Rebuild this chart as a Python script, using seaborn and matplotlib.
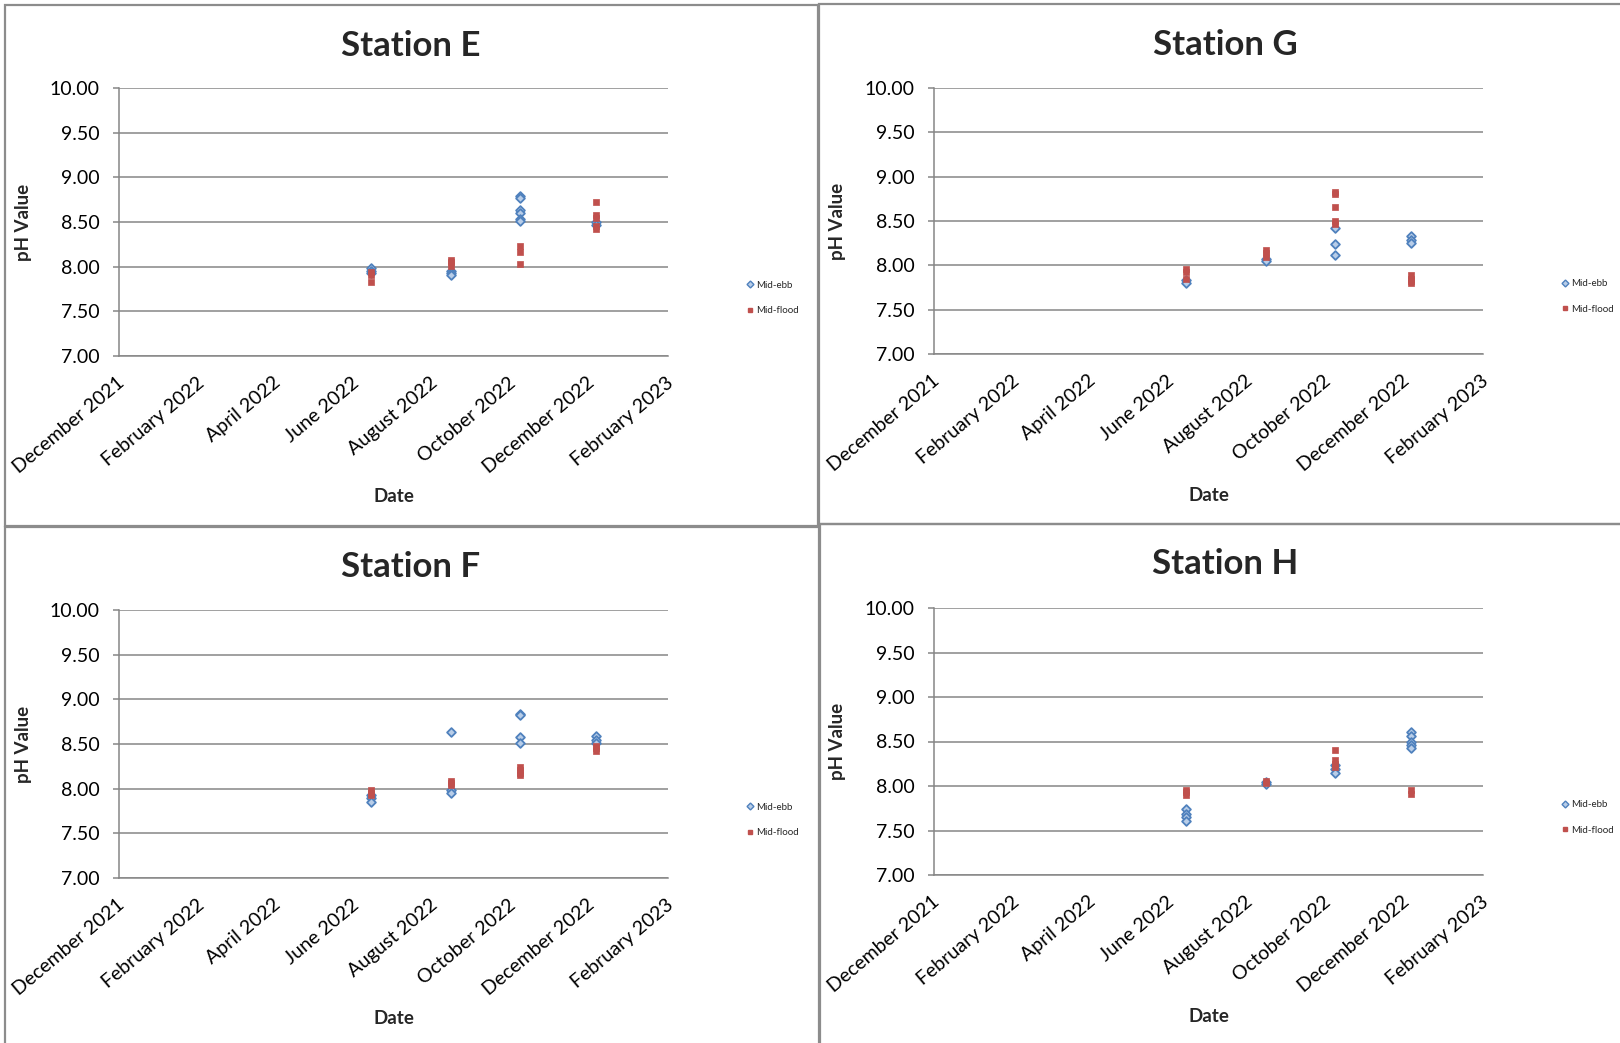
import matplotlib.pyplot as plt
import matplotlib.transforms as mtransforms
import pandas as pd
import seaborn as sns
from matplotlib.lines import Line2D
from matplotlib.patches import Rectangle
from matplotlib.ticker import FormatStrFormatter

# sampling dates (same for every station)
sample_dates = ['2022-06-15', '2022-08-16', '2022-10-09', '2022-12-07']

# pH readings, one list per sampling date
e_ebb = [[7.99, 7.95, 7.93], [7.95, 7.93, 7.91], [8.79, 8.77, 8.63, 8.60, 8.53, 8.51], [8.50, 8.47]]
e_flood = [[7.94, 7.91, 7.83], [8.08, 8.05, 8.01], [8.23, 8.16, 8.03], [8.72, 8.58, 8.54, 8.45, 8.42]]

g_ebb = [[7.83, 7.80], [8.07, 8.05], [8.42, 8.24, 8.12], [8.33, 8.29, 8.25]]
g_flood = [[7.96, 7.92, 7.85], [8.17, 8.14, 8.09], [8.83, 8.80, 8.66, 8.50, 8.47], [7.89, 7.85, 7.82, 7.80]]

f_ebb = [[7.93, 7.89, 7.85], [8.63, 7.99, 7.95], [8.84, 8.82, 8.58, 8.51], [8.59, 8.55, 8.51]]
f_flood = [[7.98, 7.95, 7.93], [8.09, 8.06, 8.04], [8.24, 8.21, 8.18, 8.15], [8.48, 8.45, 8.42]]

h_ebb = [[7.74, 7.69, 7.65, 7.61], [8.04, 8.02], [8.24, 8.19, 8.15], [8.61, 8.56, 8.50, 8.46, 8.43]]
h_flood = [[7.96, 7.93, 7.90], [8.06, 8.03], [8.41, 8.29, 8.25, 8.21], [7.95, 7.91]]

station_names = ['Station E', 'Station G', 'Station F', 'Station H']
station_data = [(e_ebb, e_flood), (g_ebb, g_flood), (f_ebb, f_flood), (h_ebb, h_flood)]
tide_labels = ['Mid-ebb', 'Mid-flood']

y_ticks = [7.0, 7.5, 8.0, 8.5, 9.0, 9.5, 10.0]
x_ticks = pd.date_range('2021-12-01', '2023-02-01', freq='2MS')

rows = []
for name, series in zip(station_names, station_data):
    for tide, per_date in zip(tide_labels, series):
        for d, vals in zip(sample_dates, per_date):
            for v in vals:
                rows.append({'station': name, 'tide': tide, 'date': pd.Timestamp(d), 'pH': v})
df = pd.DataFrame(rows)

sns.set_theme(style='white')
plt.rcParams['font.family'] = ['Lato', 'DejaVu Sans']

W, H = 1620, 1043
fig = plt.figure(figsize=(W / 100, H / 100), dpi=100)

# panel frames, axes boxes, title / label spots in pixels (left, top)
frames = [(5, 5, 818, 526), (819, 4, 1630, 524), (5, 527, 819, 1050), (820, 524, 1630, 1050)]
boxes = [(119, 88, 668, 356), (934, 88, 1483, 354), (119, 610, 668, 878), (934, 608, 1483, 875)]
titles = [(411, 46), (1225, 45), (411, 567), (1225, 564)]
ylab_x = [23, 837, 23, 837]
xlab_y = [497, 495, 1019, 1017]

blue_face, blue_edge = '#b8cde8', '#4f81bd'
red = '#c0504d'
grid_c = '#868686'

for i, name in enumerate(station_names):
    fx0, fy0, fx1, fy1 = frames[i]
    fig.patches.append(Rectangle((fx0 / W, 1 - fy1 / H), (fx1 - fx0) / W, (fy1 - fy0) / H,
                                 transform=fig.transFigure, fill=False, edgecolor='#8c8c8c', lw=1.6))
    x0, y0, x1, y1 = boxes[i]
    ax = fig.add_axes([x0 / W, 1 - y1 / H, (x1 - x0) / W, (y1 - y0) / H])
    sub = df[df['station'] == name]
    sns.scatterplot(data=sub[sub['tide'] == 'Mid-ebb'], x='date', y='pH', marker='D', s=20,
                    color=blue_face, edgecolor=blue_edge, linewidth=1.3, ax=ax, zorder=3)
    sns.scatterplot(data=sub[sub['tide'] == 'Mid-flood'], x='date', y='pH', marker='s', s=22,
                    color=red, edgecolor=red, linewidth=0.5, ax=ax, zorder=4)

    ax.set_ylim(7.0, 10.0)
    ax.set_yticks(y_ticks)
    ax.yaxis.set_major_formatter(FormatStrFormatter('%.2f'))
    ax.set_xlim(x_ticks[0], x_ticks[-1])
    ax.set_xticks(x_ticks)
    ax.set_xticklabels([d.strftime('%B %Y') for d in x_ticks])
    ax.set_xlabel('')
    ax.set_ylabel('')
    ax.grid(axis='y', color=grid_c, lw=1.1)
    ax.grid(axis='x', visible=False)
    for s in ['top', 'right']:
        ax.spines[s].set_visible(False)
    for s in ['left', 'bottom']:
        ax.spines[s].set_color(grid_c)
        ax.spines[s].set_linewidth(1.1)
    ax.tick_params(axis='y', left=True, length=4, width=1.1, color=grid_c, pad=10,
                   labelsize=14, labelcolor='black')
    ax.tick_params(axis='x', bottom=False, pad=7, labelsize=14, labelcolor='black')
    offset = mtransforms.ScaledTranslation(-2 / 100, 0, fig.dpi_scale_trans)
    for lab in ax.get_xticklabels():
        lab.set_rotation(40)
        lab.set_ha('right')
        lab.set_va('top')
        lab.set_rotation_mode('anchor')
        lab.set_transform(lab.get_transform() + offset)

    handles = [Line2D([], [], ls='', marker='D', ms=3.5, mfc=blue_face, mec=blue_edge, mew=1),
               Line2D([], [], ls='', marker='s', ms=3.5, mfc=red, mec=red)]
    ax.legend(handles, tide_labels, loc='center left', bbox_to_anchor=(1.143, 0.216), frameon=False,
              fontsize=7, handlelength=0.7, handletextpad=0.3, labelspacing=1.7,
              borderpad=0, borderaxespad=0)

    tx, ty = titles[i]
    fig.text(tx / W, 1 - ty / H, name, ha='center', va='center', fontsize=25, fontweight='bold')
    fig.text(ylab_x[i] / W, 1 - (y0 + y1) / 2 / H, 'pH Value', rotation=90, ha='center', va='center',
             fontsize=13.5, fontweight='bold')
    fig.text((x0 + x1) / 2 / W, 1 - xlab_y[i] / H, 'Date', ha='center', va='center',
             fontsize=13.5, fontweight='bold')

fig.savefig('out.png', dpi=100)
